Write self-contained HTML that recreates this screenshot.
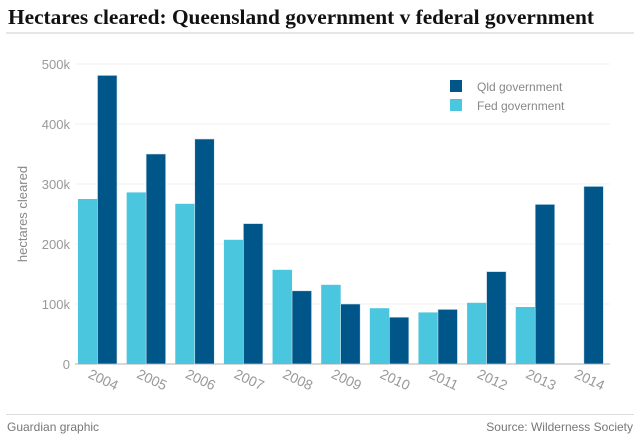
<!DOCTYPE html>
<html><head><meta charset="utf-8"><style>
body{margin:0;background:#fff;}
svg{display:block;font-family:"Liberation Sans",sans-serif;}
</style></head><body>
<svg id="chart" width="640" height="441" viewBox="0 0 640 441">
<text x="8" y="24" font-family="Liberation Serif,serif" font-weight="bold" font-size="21" textLength="586" lengthAdjust="spacingAndGlyphs" fill="#111">Hectares cleared: Queensland government v federal government</text>
<rect x="6" y="32" width="628" height="2" fill="#e6e6e6"/>
<g id="grid"></g>
<g id="bars"></g>
<g id="xlabels"></g>
<text transform="translate(27,214) rotate(-90)" text-anchor="middle" font-size="13" fill="#888">hectares cleared</text>
<g>
<rect x="450" y="80" width="12" height="12" fill="#005689"/>
<text x="477" y="91" font-size="12" fill="#888">Qld government</text>
<rect x="450" y="99" width="12" height="12" fill="#4bc6df"/>
<text x="477" y="110" font-size="12" fill="#888">Fed government</text>
</g>
<rect x="6" y="414" width="628" height="1" fill="#dcdcdc"/>
<text x="7" y="431" font-size="12" fill="#777">Guardian graphic</text>
<text x="633" y="431" font-size="12" fill="#777" text-anchor="end">Source: Wilderness Society</text>
</svg>
<script>
const years=["2004","2005","2006","2007","2008","2009","2010","2011","2012","2013","2014"];
const fedValues=[275,286,267,207,157,132,93,86,102,95,null];
const qldValues=[481,350,375,234,122,100,78,91,154,266,296];
const yTicks=[0,100,200,300,400,500];
const yTickLabels=["0","100k","200k","300k","400k","500k"];
const NS="http://www.w3.org/2000/svg";
const x0=75,x1=610,base=364,pxPer=0.6;
const band=(x1-x0)/years.length;
function y(v){return base-v*pxPer;}
function bx(i){return x0+i*band+3;}
function mk(tag,attrs,parent){const e=document.createElementNS(NS,tag);for(const k in attrs)e.setAttribute(k,attrs[k]);parent.appendChild(e);return e;}
const grid=document.getElementById('grid'),bars=document.getElementById('bars'),xl=document.getElementById('xlabels');
yTicks.forEach((t,i)=>{
  const l=mk('line',{x1:x0,x2:x1,y1:y(t),y2:y(t),stroke:i===0?'#d8d8d8':'#f0f0f0','stroke-width':i===0?2:1},grid);
  
  
  const tx=mk('text',{x:70,y:y(t)+5,'text-anchor':'end','font-size':13,fill:'#999'},grid);
  tx.textContent=yTickLabels[i];
  
  
});
const bw=19.5;
years.forEach((yr,i)=>{
  if(fedValues[i]!=null){
    const r=mk('rect',{x:bx(i),y:y(fedValues[i]),width:bw,height:base-y(fedValues[i]),fill:'#4bc6df'},bars);
    
    
  }
  const r2=mk('rect',{x:bx(i)+bw,y:y(qldValues[i]),width:bw,height:base-y(qldValues[i]),fill:'#005689',stroke:'#cfe3ee','stroke-width':0.6},bars);
  
  
  const cx=x0+i*band+band/2+2;
  const t=mk('text',{x:cx,y:384,'text-anchor':'middle','font-size':14,fill:'#999',transform:`rotate(25 ${cx} 384)`},xl);
  t.textContent=yr;
  
  
});
</script>
</body></html>
